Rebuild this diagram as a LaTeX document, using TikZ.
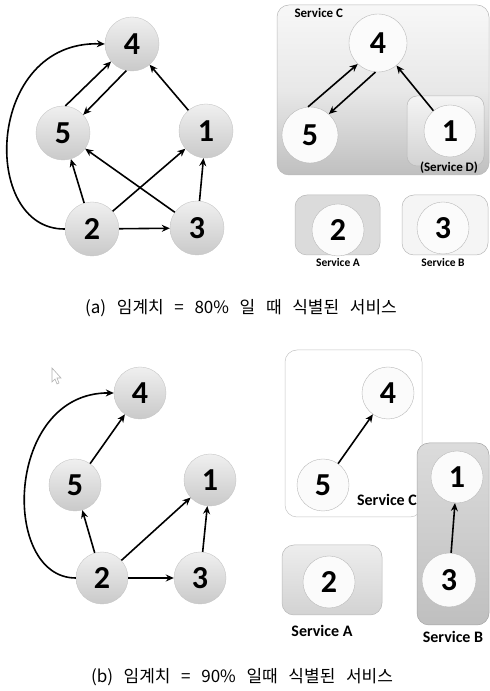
\documentclass[tikz,border=0pt]{standalone}
\usepackage{fontspec}
\setmainfont{Carlito}
\newfontfamily\krfont[WordSpace=2.8]{Noto Sans CJK KR}
\usetikzlibrary{arrows.meta}
\begin{document}
\begin{tikzpicture}[x=1pt,y=1pt,
  num/.style={font=\fontsize{32}{32}\selectfont\bfseries},
  gnode/.style={circle, minimum size=54pt, inner sep=0pt, draw=gray!45, line width=0.4pt, top color=gray!12, bottom color=gray!42, num},
  wnode/.style={circle, minimum size=54pt, inner sep=0pt, draw=gray!55, line width=0.4pt, fill=gray!3, num},
  arr/.style={-{Stealth[length=8pt,width=7pt]}, line width=1.6pt},
  box/.style={rounded corners=12pt, draw=gray!55, line width=0.5pt},
  slabs/.style={font=\fontsize{11.5}{12}\selectfont\bfseries},
  slabm/.style={font=\fontsize{13}{14}\selectfont\bfseries},
  slabl/.style={font=\fontsize{16}{17}\selectfont\bfseries},
  captext/.style={font=\krfont\fontsize{17}{20}\selectfont}]
\useasboundingbox (0,0) rectangle (490,691);
\fill[white] (0,0) rectangle (490,691);

% ---------- (a) left graph ----------
\node[gnode] (a4) at (132,647) {4};
\node[gnode] (a5) at (63,558) {5};
\node[gnode] (a1) at (206,560) {1};
\node[gnode] (a2) at (92,462) {2};
\node[gnode] (a3) at (197,463) {3};
\draw[arr] (a5.85) -- (a4.220);
\draw[arr] (a4.258) -- (a5.42);
\draw[arr] (a1) -- (a4);
\draw[arr] (a2) -- (a5);
\draw[arr] (a2) -- (a1);
\draw[arr] (a3) -- (a5);
\draw[arr] (a3) -- (a1);
\draw[arr] (a2) -- (a3);
\draw[arr] (a2.180) .. controls (-20,461) and (-15,651) .. (a4.180);

% ---------- (a) right services ----------
\shade[box, top color=gray!6, bottom color=gray!50, middle color=gray!18] (277,686) rectangle (489,516);
\node[slabm, anchor=west] (lc) at (291,678) {Service C};
\shade[box, rounded corners=10pt, top color=gray!8, bottom color=gray!35] (407,595) rectangle (484,525);
\node[wnode, minimum size=52pt] (b1) at (450,560) {1};
\node[slabm] (ld) at (449,523) {(Service D)};
\node[wnode, minimum size=58pt] (b4) at (378,648) {4};
\node[wnode, minimum size=56pt] (b5) at (310,556) {5};
\draw[arr] (b5.94) -- (b4.226);
\draw[arr] (b4.265) -- (b5.48);
\draw[arr] (b1) -- (b4);

\path[box, fill=gray!28] (295,496) rectangle (380,436);
\node[wnode, minimum size=52pt] (c2) at (338,461) {2};
\node[slabs] (la) at (338,428) {Service A};
\path[box, fill=gray!8] (402,496) rectangle (488,436);
\node[wnode, minimum size=52pt] (c3) at (443,463) {3};
\node[slabs] (lb) at (443,428) {Service B};

\node[captext] (capa) at (241,383) {(a) 임계치 = 80\% 일 때 식별된 서비스};

% ---------- (b) left graph ----------
\node[gnode, minimum size=52pt] (d4) at (140,298) {4};
\node[gnode, minimum size=52pt] (d5) at (75,206) {5};
\node[gnode, minimum size=52pt] (d1) at (210,211) {1};
\node[gnode, minimum size=52pt] (d2) at (102,113) {2};
\node[gnode, minimum size=52pt] (d3) at (200,113) {3};
\draw[arr] (d5) -- (d4);
\draw[arr] (d2) -- (d5);
\draw[arr] (d2) -- (d1);
\draw[arr] (d2) -- (d3);
\draw[arr] (d3) -- (d1);
\draw[arr] (d2.180) .. controls (0,113) and (5,299) .. (d4.180);
\draw[gray!60, line width=0.6pt, fill=white] (52,323) -- (52,309) -- (55,312) -- (57,307) -- (59,308) -- (57,313) -- (61,313) -- cycle;

% ---------- (b) right services ----------
\path[box, fill=white, draw=gray!45] (285,341) rectangle (422,174);
\node[wnode, minimum size=52pt] (e4) at (388,298) {4};
\node[wnode, minimum size=52pt] (e5) at (323,206) {5};
\draw[arr] (e5) -- (e4);
\node[slabl] (lc2) at (387,191) {Service C};

\shade[box, top color=gray!28, bottom color=gray!50, draw=gray!70] (417,248) rectangle (489,66);
\node[wnode, minimum size=52pt] (e1) at (457,214) {1};
\node[wnode, minimum size=54pt] (e3) at (449,111) {3};
\draw[arr] (e3) -- (e1);
\node[slabl] (lb2) at (453,54) {Service B};

\shade[box, top color=gray!14, bottom color=gray!35] (282,146) rectangle (382,76);
\node[wnode, minimum size=52pt] (e2) at (329,109) {2};
\node[slabl] (la2) at (322,60) {Service A};

\node[captext] (capb) at (242,14) {(b) 임계치 = 90\% 일때 식별된 서비스};
\end{tikzpicture}
\end{document}
